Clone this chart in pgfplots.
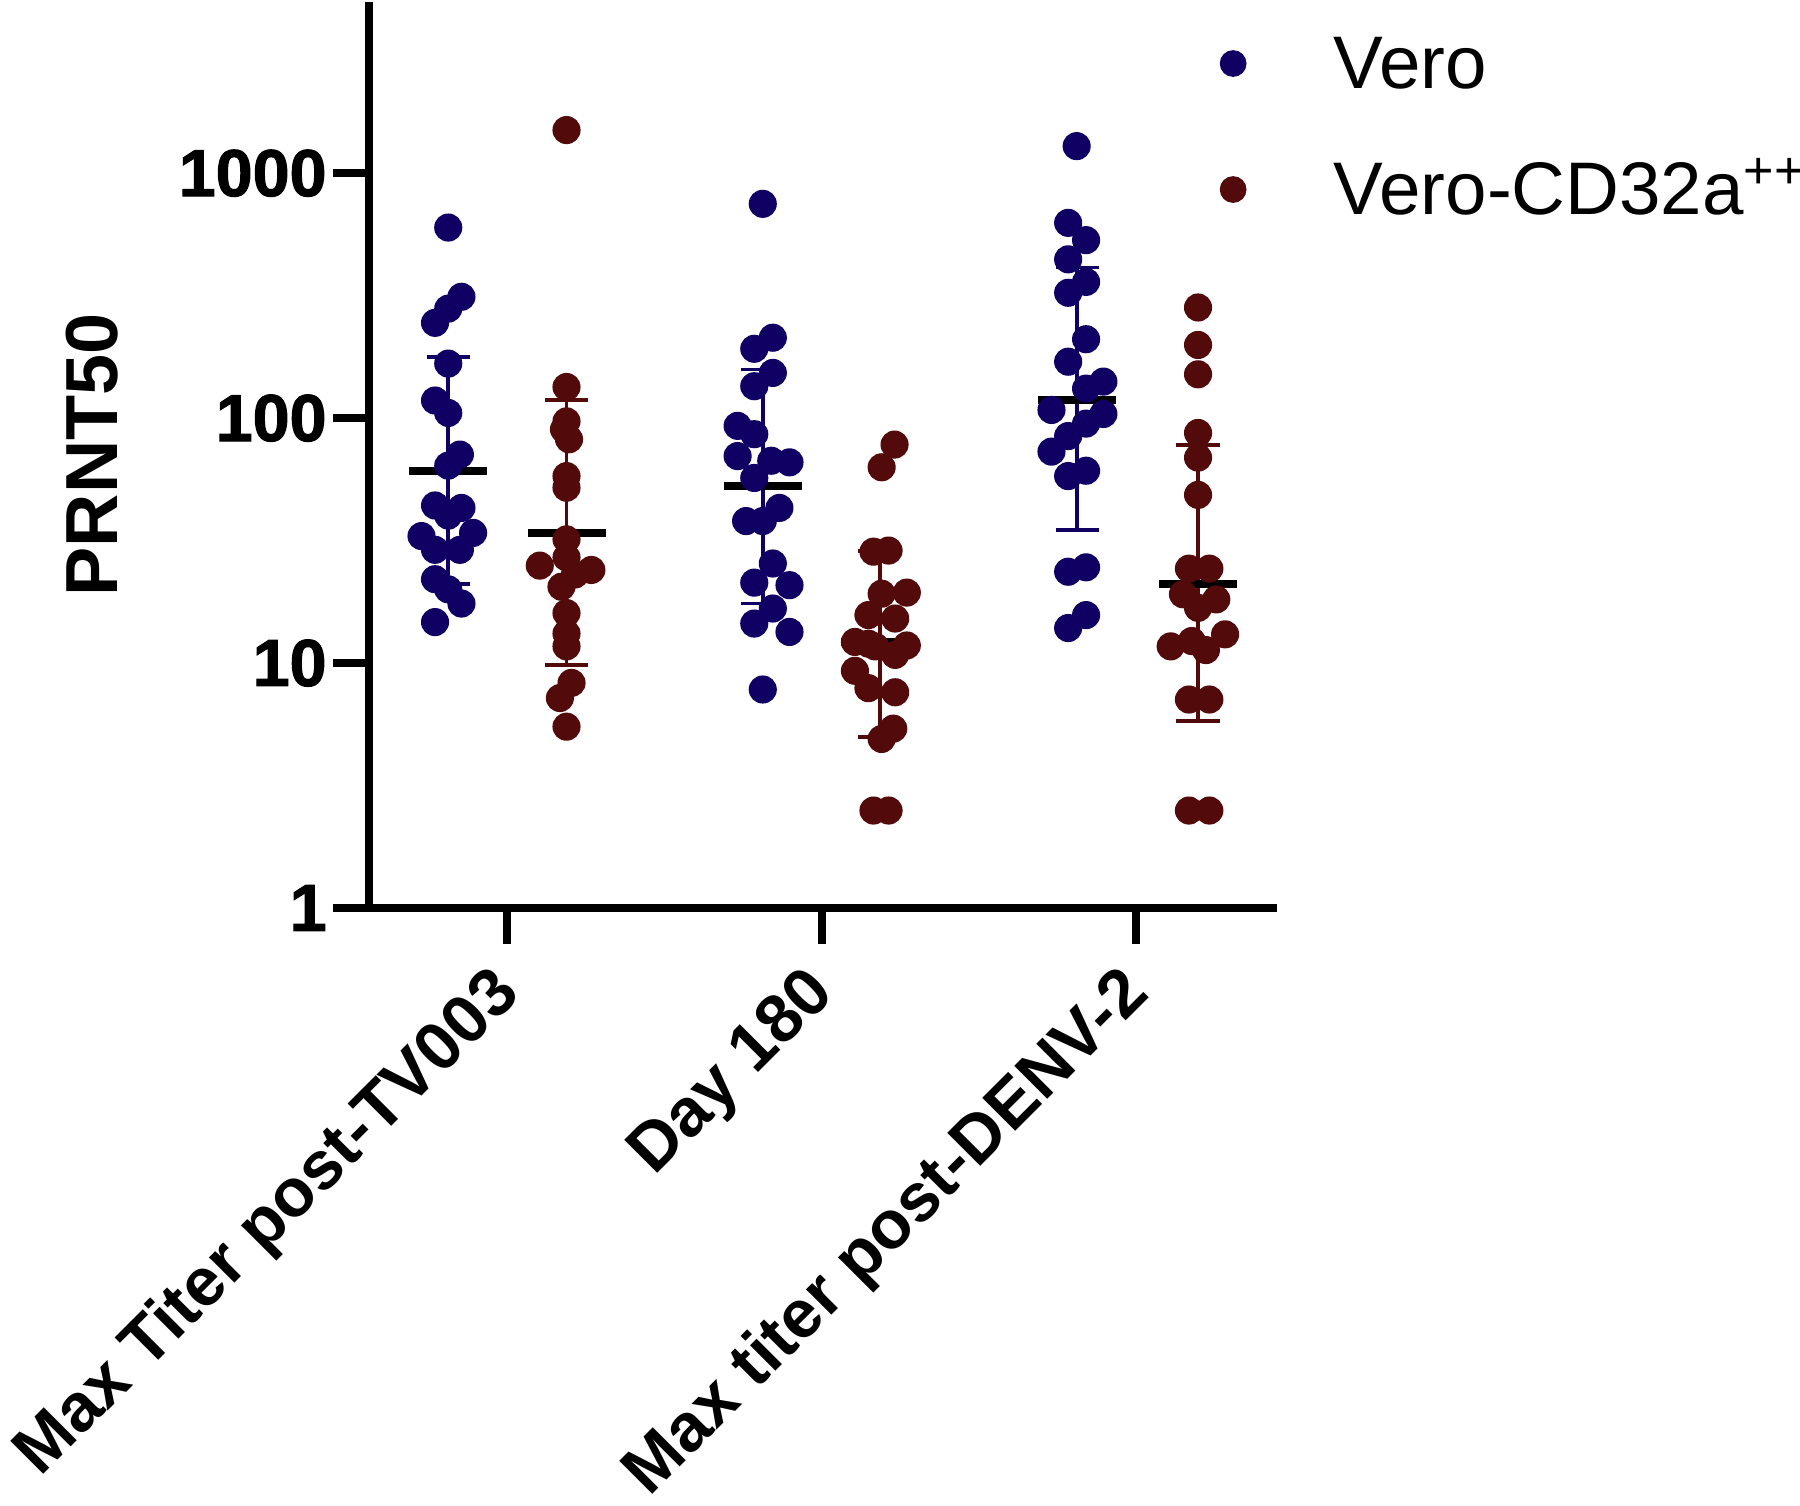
\documentclass[border=0pt]{standalone}
\usepackage{fontspec}
\setmainfont{Liberation Sans}
\newfontfamily\heavyfont{Liberation Sans}[BoldFeatures={FakeBold=1.6}]
\usepackage{pgfplots}
\pgfplotsset{compat=1.18}
\definecolor{vero}{RGB}{16,0,100}
\definecolor{cdc}{RGB}{82,10,10}
\begin{document}
\begin{tikzpicture}
\begin{axis}[
  at={(0,0)}, anchor=south west,
  scale only axis, width=9.08cm, height=9.06cm,
  xmin=0.560, xmax=3.447,
  ymode=log, ymin=1, ymax=5000,
  axis lines=left,
  axis line style={-, line width=2.3pt},
  tick align=outside, major tick length=0.36cm,
  tick style={black, line width=2.3pt},
  ytick={1,10,100,1000}, yticklabels={1,10,100,1000},
  yminorticks=false, xminorticks=false,
  xtick={1,2,3},
  xticklabels={Max Titer post-TV003, Day 180, Max titer post-DENV-2},
  /pgf/number format/assume math mode=true,
  yticklabel style={font=\fontsize{18.9}{20}\heavyfont\bfseries, xshift=0.06cm},
  xticklabel style={xshift=0.11cm, yshift=-0.31cm, font=\fontsize{19.3}{21}\selectfont\bfseries, rotate=45, anchor=east},
  ylabel={PRNT50},
  ylabel style={font=\fontsize{21}{24}\selectfont\bfseries, at={(axis description cs:-0.305,0.5)}, anchor=center},
  clip=false,
  legend style={draw=none, fill=none, inner sep=0pt, at={(axis description cs:0.937,0.966)}, anchor=north west,
    font=\fontsize{21.2}{24}\selectfont, row sep=0.66cm,
    nodes={inner sep=0pt, text height=0.55cm, text depth=0.05cm},
    /tikz/every odd column/.append style={column sep=0.88cm}},
  legend cell align=left,
]
\addlegendimage{only marks, mark=*, mark size=3.6pt, color=vero}
\addlegendimage{only marks, mark=*, mark size=3.6pt, color=cdc}
% error bars (geometric mean +/- SD) and mean lines
\addplot[forget plot, vero, line width=1.1pt] coordinates {(0.812,21) (0.812,178)};
\addplot[forget plot, vero, line width=1.1pt] coordinates {(0.743,178) (0.881,178)};
\addplot[forget plot, vero, line width=1.1pt] coordinates {(0.743,21) (0.881,21)};
\addplot[forget plot, cdc, line width=1.1pt] coordinates {(1.188,9.8) (1.188,119)};
\addplot[forget plot, cdc, line width=1.1pt] coordinates {(1.119,119) (1.257,119)};
\addplot[forget plot, cdc, line width=1.1pt] coordinates {(1.119,9.8) (1.257,9.8)};
\addplot[forget plot, vero, line width=1.1pt] coordinates {(1.812,17.5) (1.812,158)};
\addplot[forget plot, vero, line width=1.1pt] coordinates {(1.743,158) (1.881,158)};
\addplot[forget plot, vero, line width=1.1pt] coordinates {(1.743,17.5) (1.881,17.5)};
\addplot[forget plot, cdc, line width=1.1pt] coordinates {(2.185,5.0) (2.185,28.7)};
\addplot[forget plot, cdc, line width=1.1pt] coordinates {(2.116,28.7) (2.254,28.7)};
\addplot[forget plot, cdc, line width=1.1pt] coordinates {(2.116,5.0) (2.254,5.0)};
\addplot[forget plot, vero, line width=1.1pt] coordinates {(2.812,35) (2.812,412)};
\addplot[forget plot, vero, line width=1.1pt] coordinates {(2.743,412) (2.881,412)};
\addplot[forget plot, vero, line width=1.1pt] coordinates {(2.743,35) (2.881,35)};
\addplot[forget plot, cdc, line width=1.1pt] coordinates {(3.196,5.8) (3.196,78)};
\addplot[forget plot, cdc, line width=1.1pt] coordinates {(3.127,78) (3.265,78)};
\addplot[forget plot, cdc, line width=1.1pt] coordinates {(3.127,5.8) (3.265,5.8)};
\addplot[forget plot, black, line width=2.3pt] coordinates {(0.688,61) (0.936,61)};
\addplot[forget plot, black, line width=2.3pt] coordinates {(1.064,34) (1.312,34)};
\addplot[forget plot, black, line width=2.3pt] coordinates {(1.688,53) (1.936,53)};
\addplot[forget plot, black, line width=2.3pt] coordinates {(2.061,12.2) (2.309,12.2)};
\addplot[forget plot, black, line width=2.3pt] coordinates {(2.688,119) (2.936,119)};
\addplot[forget plot, black, line width=2.3pt] coordinates {(3.072,21.1) (3.320,21.1)};
% Vero
\addplot[forget plot, only marks, mark=*, mark size=3.8pt, color=vero] table {
x y
0.812 600
0.854 313
0.812 280
0.770 245
0.812 167
0.770 118
0.812 105
0.849 71
0.812 64
0.770 44
0.854 43
0.812 40
0.891 34
0.727 33
0.770 29
0.849 29
0.770 22
0.812 20
0.854 17.5
0.770 14.7
1.812 750
1.844 213
1.785 192
1.844 153
1.785 135
1.732 93
1.785 86
1.732 70
1.839 67
1.897 66
1.785 57
1.865 43
1.759 38
1.812 38
1.844 25.5
1.785 21.3
1.897 20.8
1.844 16.7
1.785 14.5
1.897 13.4
1.812 7.8
2.810 1290
2.783 627
2.840 533
2.783 445
2.840 360
2.783 325
2.840 210
2.783 170
2.895 141
2.840 132
2.730 108
2.895 104
2.840 95
2.783 84.5
2.730 73
2.840 61
2.783 58
2.840 24.6
2.783 23.6
2.840 15.7
2.783 13.9
};
% Vero-CD32a++
\addplot[forget plot, only marks, mark=*, mark size=3.8pt, color=cdc] table {
x y
1.188 1500
1.188 134
1.188 97
1.180 90
1.196 82
1.188 58
1.188 52
1.188 32
1.188 27
1.103 25
1.267 24
1.215 23
1.172 20.5
1.188 16
1.188 13.2
1.188 11.7
1.204 8.3
1.167 7.2
1.188 5.5
2.231 78
2.190 63
2.164 28.5
2.212 28.8
2.190 19.2
2.270 19.4
2.148 15.7
2.233 15.2
2.105 12.2
2.148 12.0
2.169 11.7
2.270 11.8
2.233 10.8
2.105 9.3
2.148 7.9
2.233 7.6
2.227 5.4
2.190 4.9
2.164 2.5
2.212 2.5
3.196 283
3.196 199
3.196 151
3.196 87
3.196 69
3.196 48.6
3.167 24.3
3.232 24.3
3.148 19.1
3.254 18.2
3.196 16.8
3.109 11.7
3.176 12.3
3.282 13.1
3.221 11.3
3.167 7.1
3.232 7.1
3.167 2.5
3.232 2.5
};
\legend{Vero, Vero-CD32a\textsuperscript{++}}
\end{axis}
\pgfresetboundingbox
\path[use as bounding box] (-3.69cm,-5.98cm) rectangle (14.31cm,9.08cm);
\end{tikzpicture}
\end{document}
